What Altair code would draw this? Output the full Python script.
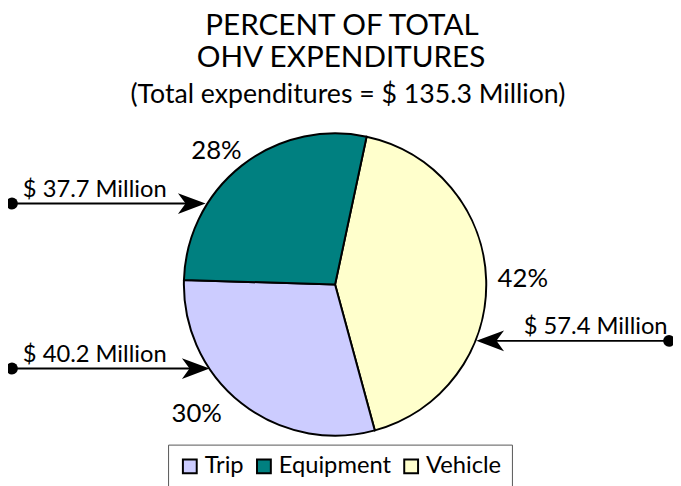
import math
import altair as alt
import pandas as pd

# ---- data ----
categories = ["Vehicle", "Trip", "Equipment"]
values = [57.4, 40.2, 37.7]
legend_order = ["Trip", "Equipment", "Vehicle"]
legend_colors = ["#CCCCFF", "#008080", "#FFFFCC"]
total = 135.3
title_lines = ["PERCENT OF TOTAL", "OHV EXPENDITURES"]
subtitle = "(Total expenditures = $ 135.3 Million)"

df = pd.DataFrame({"category": categories, "value": values, "order": list(range(len(categories)))})
df["pct"] = [f"{round(v / total * 100)}%" for v in values]
df["amount"] = [f"$ {v} Million" for v in values]

FONT = "Lato"
START = 0.21
CX, CY, R = 331, 277, 153

base = alt.Chart(df)

pie = base.mark_arc(radius=R, stroke="black", strokeWidth=2).encode(
    theta=alt.Theta("value:Q", stack=True, scale=alt.Scale(range=[START, START + 2 * math.pi])),
    color=alt.Color(
        "category:N",
        scale=alt.Scale(domain=legend_order, range=legend_colors),
        legend=alt.Legend(
            title=None, orient="none", legendX=162, legendY=439, direction="horizontal",
            symbolType="square", symbolSize=196, symbolStrokeColor="black", symbolStrokeWidth=2,
            symbolOpacity=1, labelFont=FONT, labelFontSize=24, labelColor="black",
            strokeColor="#555555", fillColor="white", padding=10, columnPadding=8, labelOffset=3,
        ),
    ),
    order=alt.Order("order:Q"),
    x=alt.value(CX),
    y=alt.value(CY),
)

def one(cat):
    return base.transform_filter(alt.datum.category == cat)

layers = [pie]

# percent labels
pct_pos = {"Equipment": (211, 150), "Vehicle": (521, 279), "Trip": (191, 416)}
for cat, (px, py) in pct_pos.items():
    layers.append(
        one(cat).mark_text(font=FONT, fontSize=26, color="black", align="center", baseline="alphabetic")
        .encode(text="pct:N", x=alt.value(px), y=alt.value(py))
    )

# dollar annotations with arrows
RIGHT_ARROW = "M1,0L-1,-0.75L-0.45,0L-1,0.75Z"
LEFT_ARROW = "M-1,0L1,-0.75L0.45,0L1,0.75Z"
arrows = {
    # cat: (dot_x, tip_x, line_y, text_x, text_y, align, shape)
    "Equipment": (4, 200, 195, 15, 188, "left", RIGHT_ARROW),
    "Trip": (4, 204, 362, 15, 355, "left", RIGHT_ARROW),
    "Vehicle": (669, 474, 334, 522, 327, "left", LEFT_ARROW),
}
for cat, (dx, tx, ly, txx, tyy, al, shp) in arrows.items():
    head_c = tx - 14 if tx > dx else tx + 14
    layers.append(
        one(cat).mark_rule(color="black", strokeWidth=2)
        .encode(x=alt.value(dx), x2=alt.value(head_c), y=alt.value(ly))
    )
    layers.append(
        one(cat).mark_point(shape="circle", filled=True, color="black", size=144, opacity=1)
        .encode(x=alt.value(dx), y=alt.value(ly))
    )
    layers.append(
        one(cat).mark_point(shape=shp, filled=True, color="black", size=784, opacity=1, strokeWidth=0)
        .encode(x=alt.value(head_c), y=alt.value(ly))
    )
    layers.append(
        one(cat).mark_text(font=FONT, fontSize=24, color="black", align=al, baseline="alphabetic")
        .encode(text="amount:N", x=alt.value(txx), y=alt.value(tyy))
    )

# titles
title_df = pd.DataFrame({"line": title_lines + [subtitle], "idx": [0, 1, 2]})
tbase = alt.Chart(title_df)
title_specs = [(0, 30, 338, 24), (1, 30, 337, 57), (2, 27, 344, 93)]
for idx, fs, tx, ty in title_specs:
    layers.append(
        tbase.transform_filter(alt.datum.idx == idx)
        .mark_text(font=FONT, fontSize=fs, color="black", align="center", baseline="alphabetic")
        .encode(text="line:N", x=alt.value(tx), y=alt.value(ty))
    )

chart = alt.layer(*layers).properties(
    width=673, height=478, autosize=alt.AutoSizeParams(type="none"), padding=0
).configure_view(stroke=None)

chart.save("out.html", embed_options={"renderer": "svg", "actions": False})
